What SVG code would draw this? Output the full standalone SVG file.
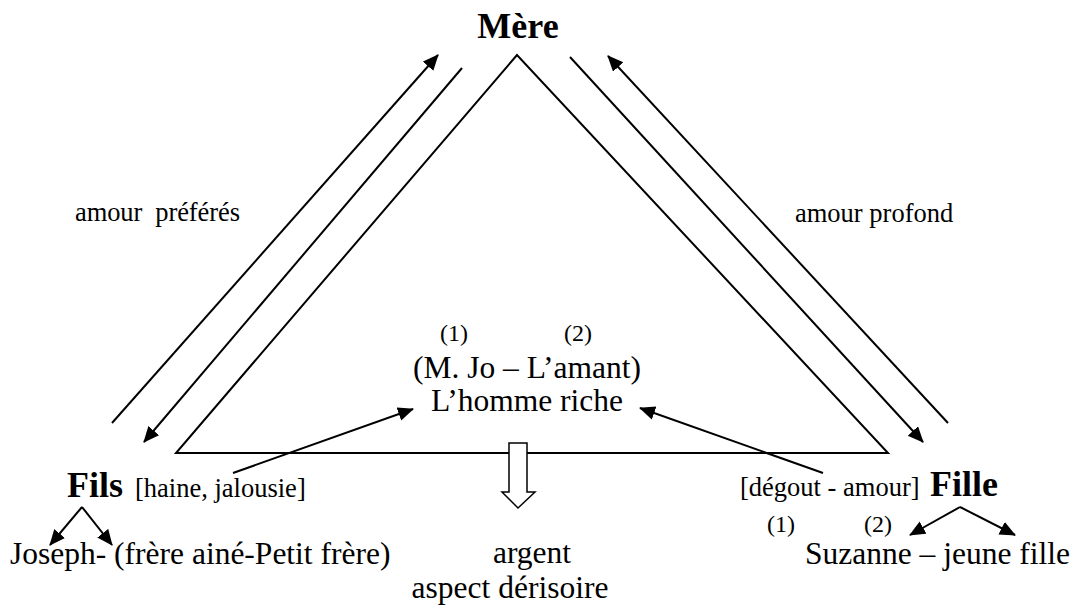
<svg xmlns="http://www.w3.org/2000/svg" width="1078" height="611" viewBox="0 0 1078 611">
<style>
text{font-family:"Liberation Serif","Times New Roman",serif;fill:#000}
.b{font-weight:bold;font-size:36px}
.r{font-size:31.5px}
.s{font-size:26.5px}
.n{font-size:24px}
.ln{stroke:#000;stroke-width:2;fill:none}
</style>
<defs>
<marker id="ah" markerUnits="userSpaceOnUse" markerWidth="18" markerHeight="16" refX="15" refY="7" orient="auto">
<path d="M0,0 L16,7 L0,14 z" fill="#000"/>
</marker>
</defs>
<rect width="1078" height="611" fill="#fff"/>
<g id="connectors">
<polygon class="ln" points="517,55 176,453 888,453"/>
<line class="ln" x1="112" y1="423" x2="438" y2="55" marker-end="url(#ah)"/>
<line class="ln" x1="462" y1="68" x2="144" y2="442" marker-end="url(#ah)"/>
<line class="ln" x1="570" y1="57" x2="923" y2="442" marker-end="url(#ah)"/>
<line class="ln" x1="948" y1="423" x2="608" y2="56" marker-end="url(#ah)"/>
<line class="ln" x1="233" y1="473" x2="413" y2="409" marker-end="url(#ah)"/>
<line class="ln" x1="823" y1="473" x2="640" y2="408" marker-end="url(#ah)"/>
<polyline class="ln" points="82,507 50,545" marker-end="url(#ah)"/>
<polyline class="ln" points="82,507 112,545" marker-end="url(#ah)"/>
<polyline class="ln" points="960,507 910,535" marker-end="url(#ah)"/>
<polyline class="ln" points="960,507 1015,535" marker-end="url(#ah)"/>
<path d="M509,443 H527 V492 H535 L518,508 L502,492 H509 Z" fill="#fff" stroke="#000" stroke-width="1.5"/>
</g>
<g id="mere"><text class="b" x="518" y="38" text-anchor="middle">Mère</text></g>
<g id="label-left"><text class="s" x="75" y="221" textLength="165" lengthAdjust="spacing" xml:space="preserve">amour  préférés</text></g>
<g id="label-right"><text class="s" x="795" y="222">amour profond</text></g>
<g id="homme-riche">
<text class="n" x="454" y="341" text-anchor="middle">(1)</text>
<text class="n" x="578" y="341" text-anchor="middle">(2)</text>
<text class="r" x="527" y="378" text-anchor="middle">(M. Jo – L’amant)</text>
<text class="r" x="527" y="411" text-anchor="middle">L’homme riche</text>
</g>
<g id="fils">
<text class="b" x="67" y="497">Fils</text>
<text class="s" x="135" y="497">[haine, jalousie]</text>
</g>
<g id="fille">
<text class="s" x="740" y="496">[dégout - amour]</text>
<text class="b" x="930" y="496">Fille</text>
<text class="n" x="781" y="532" text-anchor="middle">(1)</text>
<text class="n" x="878" y="532" text-anchor="middle">(2)</text>
</g>
<g id="joseph"><text class="r" x="10" y="564">Joseph- (frère ainé-Petit frère)</text></g>
<g id="suzanne"><text class="r" x="805" y="564">Suzanne – jeune fille</text></g>
<g id="argent">
<text class="r" x="532" y="563" text-anchor="middle">argent</text>
<text class="r" x="510" y="598" text-anchor="middle">aspect dérisoire</text>
</g>
</svg>
